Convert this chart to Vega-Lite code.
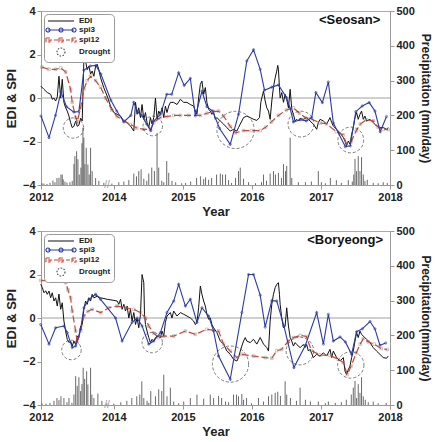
{
  "$schema": "https://vega.github.io/schema/vega-lite/v6.json",
  "padding": {"left": 4, "top": 4, "right": 2, "bottom": 2},
  "spacing": 46,
  "bounds": "flush",
  "config": {
    "font": "Liberation Sans",
    "view": {"stroke": "#aaaaaa"},
    "axis": {"labelFontSize": 11, "labelFontWeight": "bold", "titleFontSize": 13, "titleFontWeight": "bold", "domainColor": "#999999", "tickColor": "#999999", "grid": false, "labelColor": "#222222", "titleColor": "#222222", "tickSize": 4, "labelPadding": 2, "titlePadding": 4}
  },
  "resolve": {"scale": {"color": "independent", "size": "independent"}, "legend": {"color": "independent", "size": "independent"}},
  "datasets": {
    "edi_s": [
      {"t":2012.941,"v":0.55},{"t":2012.988,"v":0.4},{"t":2013.036,"v":0.25},{"t":2013.085,"v":0.17},{"t":2013.108,"v":-0.06},{"t":2013.133,"v":0},{"t":2013.157,"v":-0.14},{"t":2013.181,"v":0.05},{"t":2013.205,"v":1.0},{"t":2013.230,"v":0.0},{"t":2013.253,"v":0.86},{"t":2013.277,"v":-0.2},{"t":2013.302,"v":-0.45},{"t":2013.325,"v":-0.6},{"t":2013.350,"v":-0.83},{"t":2013.374,"v":-1.13},{"t":2013.397,"v":-1.36},{"t":2013.422,"v":-1.3},{"t":2013.447,"v":-1.06},{"t":2013.470,"v":-1.3},{"t":2013.494,"v":-1.25},{"t":2013.519,"v":-0.93},{"t":2013.542,"v":-1.06},{"t":2013.566,"v":1.78},{"t":2013.591,"v":1.7},{"t":2013.614,"v":1.3},{"t":2013.639,"v":1.47},{"t":2013.663,"v":1.1},{"t":2013.686,"v":1.24},{"t":2013.711,"v":1.0},{"t":2013.736,"v":1.47},{"t":2013.759,"v":1.55},{"t":2013.783,"v":1.3},{"t":2013.808,"v":0.93},{"t":2013.855,"v":0.47},{"t":2013.903,"v":0.09},{"t":2013.952,"v":-0.37},{"t":2014.000,"v":-0.67},{"t":2014.048,"v":-0.75},{"t":2014.097,"v":-0.83},{"t":2014.145,"v":-1.06},{"t":2014.192,"v":-1.13},{"t":2014.241,"v":-1.29},{"t":2014.289,"v":-1.52},{"t":2014.314,"v":-0.2},{"t":2014.337,"v":-0.75},{"t":2014.361,"v":-0.45},{"t":2014.386,"v":-0.9},{"t":2014.409,"v":-0.3},{"t":2014.434,"v":-0.98},{"t":2014.458,"v":-0.67},{"t":2014.481,"v":-1.13},{"t":2014.506,"v":-1.36},{"t":2014.530,"v":-0.9},{"t":2014.553,"v":-1.2},{"t":2014.578,"v":-0.9},{"t":2014.603,"v":0},{"t":2014.626,"v":-0.98},{"t":2014.650,"v":-0.6},{"t":2014.675,"v":-0.75},{"t":2014.698,"v":-0.45},{"t":2014.723,"v":-0.9},{"t":2014.747,"v":-0.37},{"t":2014.770,"v":-0.67},{"t":2014.795,"v":-0.37},{"t":2014.819,"v":-0.2},{"t":2014.867,"v":-0.2},{"t":2014.915,"v":-0.3},{"t":2014.964,"v":-0.06},{"t":2015.012,"v":-0.2},{"t":2015.059,"v":-0.2},{"t":2015.108,"v":-0.3},{"t":2015.156,"v":-0.37},{"t":2015.181,"v":-0.6},{"t":2015.204,"v":-0.75},{"t":2015.228,"v":0},{"t":2015.253,"v":0.63},{"t":2015.276,"v":0.78},{"t":2015.301,"v":0.17},{"t":2015.325,"v":0.48},{"t":2015.348,"v":-0.2},{"t":2015.373,"v":-0.52},{"t":2015.397,"v":-0.6},{"t":2015.421,"v":-0.75},{"t":2015.445,"v":-0.67},{"t":2015.470,"v":-0.98},{"t":2015.493,"v":-0.9},{"t":2015.542,"v":-1.06},{"t":2015.590,"v":-1.2},{"t":2015.637,"v":-1.36},{"t":2015.686,"v":-1.52},{"t":2015.734,"v":-1.44},{"t":2015.782,"v":-1.52},{"t":2015.806,"v":-1.36},{"t":2015.831,"v":-1.2},{"t":2015.854,"v":-1.06},{"t":2015.879,"v":-0.9},{"t":2015.926,"v":-0.83},{"t":2015.975,"v":-0.9},{"t":2016.023,"v":-0.98},{"t":2016.071,"v":-1.03},{"t":2016.110,"v":-0.9},{"t":2016.129,"v":-0.2},{"t":2016.143,"v":0},{"t":2016.168,"v":0.32},{"t":2016.192,"v":-0.14},{"t":2016.215,"v":-0.45},{"t":2016.240,"v":-0.6},{"t":2016.264,"v":-0.98},{"t":2016.288,"v":-0.14},{"t":2016.312,"v":0.5},{"t":2016.337,"v":0.93},{"t":2016.360,"v":1.24},{"t":2016.374,"v":1.5},{"t":2016.384,"v":1.32},{"t":2016.399,"v":0.47},{"t":2016.409,"v":0},{"t":2016.432,"v":0.25},{"t":2016.457,"v":-0.2},{"t":2016.481,"v":0.17},{"t":2016.504,"v":-0.06},{"t":2016.529,"v":-0.45},{"t":2016.554,"v":0.4},{"t":2016.577,"v":-0.52},{"t":2016.601,"v":-0.75},{"t":2016.626,"v":-1.06},{"t":2016.649,"v":-0.98},{"t":2016.673,"v":-1.06},{"t":2016.698,"v":-0.94},{"t":2016.746,"v":-0.98},{"t":2016.793,"v":-0.9},{"t":2016.842,"v":-1.06},{"t":2016.890,"v":-1.2},{"t":2016.938,"v":-1.44},{"t":2016.962,"v":-1.13},{"t":2016.987,"v":-0.98},{"t":2017.035,"v":-1.06},{"t":2017.082,"v":-1.2},{"t":2017.131,"v":-0.9},{"t":2017.155,"v":-1.13},{"t":2017.179,"v":-1.29},{"t":2017.227,"v":-1.44},{"t":2017.276,"v":-1.6},{"t":2017.324,"v":-1.82},{"t":2017.348,"v":-1.98},{"t":2017.371,"v":-2.2},{"t":2017.396,"v":-1.98},{"t":2017.421,"v":-2.13},{"t":2017.444,"v":-1.67},{"t":2017.468,"v":-1.36},{"t":2017.493,"v":-0.9},{"t":2017.516,"v":-0.67},{"t":2017.540,"v":-0.98},{"t":2017.565,"v":-0.75},{"t":2017.588,"v":-0.6},{"t":2017.613,"v":-0.98},{"t":2017.637,"v":-0.83},{"t":2017.660,"v":-1.06},{"t":2017.710,"v":-0.98},{"t":2017.757,"v":-1.13},{"t":2017.805,"v":-1.29},{"t":2017.854,"v":-1.36},{"t":2017.902,"v":-1.36},{"t":2017.950,"v":-1.44},{"t":2017.974,"v":-1.36}
    ],
    "spi3_s": [
      {"t":2012.945,"v":-0.83},{"t":2013.061,"v":-1.82},{"t":2013.155,"v":-0.8},{"t":2013.234,"v":0.28},{"t":2013.314,"v":-0.4},{"t":2013.422,"v":-0.65},{"t":2013.494,"v":-0.62},{"t":2013.566,"v":1.28},{"t":2013.660,"v":1.47},{"t":2013.740,"v":1.5},{"t":2013.812,"v":1.1},{"t":2013.957,"v":-0.1},{"t":2014.043,"v":-0.6},{"t":2014.145,"v":-1.1},{"t":2014.246,"v":-0.8},{"t":2014.289,"v":-0.2},{"t":2014.347,"v":-0.65},{"t":2014.405,"v":-0.8},{"t":2014.477,"v":-1.2},{"t":2014.535,"v":-1.5},{"t":2014.578,"v":-1.06},{"t":2014.675,"v":-0.75},{"t":2014.766,"v":0.17},{"t":2014.838,"v":0.17},{"t":2014.939,"v":1.16},{"t":2015.019,"v":0.58},{"t":2015.108,"v":0.9},{"t":2015.181,"v":-0.82},{"t":2015.276,"v":0.31},{"t":2015.348,"v":-0.4},{"t":2015.431,"v":-0.6},{"t":2015.532,"v":-1.4},{"t":2015.686,"v":-2.13},{"t":2015.806,"v":-0.75},{"t":2015.926,"v":1.7},{"t":2016.023,"v":2.22},{"t":2016.120,"v":1.32},{"t":2016.182,"v":0.36},{"t":2016.288,"v":0.5},{"t":2016.384,"v":0.6},{"t":2016.500,"v":0.02},{"t":2016.554,"v":-0.48},{"t":2016.601,"v":-1.1},{"t":2016.698,"v":-1.0},{"t":2016.789,"v":-1.05},{"t":2016.866,"v":-0.9},{"t":2016.926,"v":0.25},{"t":2017.020,"v":-0.21},{"t":2017.107,"v":0.74},{"t":2017.179,"v":-1.15},{"t":2017.353,"v":-2.24},{"t":2017.425,"v":-2.2},{"t":2017.504,"v":-0.63},{"t":2017.598,"v":-0.37},{"t":2017.699,"v":-0.21},{"t":2017.782,"v":-0.6},{"t":2017.858,"v":-1.55},{"t":2017.950,"v":-0.85}
    ],
    "spi12_s": [
      {"t":2012.960,"v":1.42},{"t":2013.061,"v":1.32},{"t":2013.157,"v":1.32},{"t":2013.230,"v":1.38},{"t":2013.302,"v":1.2},{"t":2013.374,"v":0.4},{"t":2013.397,"v":-0.2},{"t":2013.447,"v":-0.9},{"t":2013.470,"v":-1.1},{"t":2013.519,"v":-0.45},{"t":2013.566,"v":0.4},{"t":2013.614,"v":0.8},{"t":2013.663,"v":1.0},{"t":2013.736,"v":0.8},{"t":2013.808,"v":0.5},{"t":2013.880,"v":0.0},{"t":2013.971,"v":-0.55},{"t":2014.048,"v":-0.85},{"t":2014.145,"v":-1.05},{"t":2014.241,"v":-1.22},{"t":2014.332,"v":-1.38},{"t":2014.434,"v":-1.44},{"t":2014.530,"v":-1.44},{"t":2014.578,"v":-1.13},{"t":2014.675,"v":-0.9},{"t":2014.766,"v":-0.85},{"t":2014.867,"v":-0.8},{"t":2014.964,"v":-0.8},{"t":2015.084,"v":-0.8},{"t":2015.253,"v":-0.8},{"t":2015.348,"v":-0.7},{"t":2015.445,"v":-0.62},{"t":2015.517,"v":-0.6},{"t":2015.590,"v":-0.83},{"t":2015.686,"v":-1.3},{"t":2015.763,"v":-1.6},{"t":2015.879,"v":-1.5},{"t":2015.994,"v":-1.5},{"t":2016.120,"v":-1.5},{"t":2016.197,"v":-1.35},{"t":2016.283,"v":-1.1},{"t":2016.384,"v":-0.8},{"t":2016.500,"v":-0.55},{"t":2016.601,"v":-0.45},{"t":2016.688,"v":-0.7},{"t":2016.775,"v":-0.9},{"t":2016.847,"v":-0.95},{"t":2016.991,"v":-1.15},{"t":2017.078,"v":-1.18},{"t":2017.223,"v":-1.55},{"t":2017.324,"v":-1.7},{"t":2017.367,"v":-2.1},{"t":2017.439,"v":-2.0},{"t":2017.512,"v":-1.5},{"t":2017.569,"v":-1.2},{"t":2017.656,"v":-1.0},{"t":2017.757,"v":-1.05},{"t":2017.829,"v":-1.35},{"t":2017.902,"v":-1.44},{"t":2017.974,"v":-1.45}
    ],
    "pr_s": [
      {"t":2012.960,"p":5},{"t":2012.988,"p":4},{"t":2013.032,"p":3},{"t":2013.075,"p":6},{"t":2013.118,"p":13},{"t":2013.147,"p":8},{"t":2013.176,"p":20},{"t":2013.205,"p":21},{"t":2013.234,"p":30},{"t":2013.253,"p":30},{"t":2013.267,"p":16},{"t":2013.292,"p":10},{"t":2013.321,"p":7},{"t":2013.364,"p":8},{"t":2013.397,"p":12},{"t":2013.422,"p":60},{"t":2013.436,"p":83},{"t":2013.461,"p":97},{"t":2013.480,"p":74},{"t":2013.499,"p":30},{"t":2013.523,"p":50},{"t":2013.538,"p":120},{"t":2013.552,"p":165},{"t":2013.566,"p":136},{"t":2013.581,"p":60},{"t":2013.600,"p":107},{"t":2013.624,"p":59},{"t":2013.643,"p":30},{"t":2013.663,"p":107},{"t":2013.686,"p":40},{"t":2013.736,"p":20},{"t":2013.783,"p":12},{"t":2013.855,"p":6},{"t":2013.971,"p":4},{"t":2014.072,"p":8},{"t":2014.145,"p":10},{"t":2014.217,"p":14},{"t":2014.289,"p":33},{"t":2014.328,"p":25},{"t":2014.361,"p":40},{"t":2014.395,"p":45},{"t":2014.434,"p":18},{"t":2014.477,"p":12},{"t":2014.506,"p":33},{"t":2014.549,"p":50},{"t":2014.588,"p":40},{"t":2014.626,"p":150},{"t":2014.650,"p":50},{"t":2014.694,"p":12},{"t":2014.723,"p":8},{"t":2014.766,"p":69},{"t":2014.795,"p":35},{"t":2014.842,"p":12},{"t":2014.896,"p":8},{"t":2014.983,"p":5},{"t":2015.040,"p":6},{"t":2015.113,"p":10},{"t":2015.199,"p":20},{"t":2015.257,"p":25},{"t":2015.301,"p":17},{"t":2015.329,"p":22},{"t":2015.373,"p":15},{"t":2015.416,"p":20},{"t":2015.488,"p":30},{"t":2015.542,"p":33},{"t":2015.575,"p":30},{"t":2015.618,"p":30},{"t":2015.662,"p":14},{"t":2015.705,"p":6},{"t":2015.763,"p":20},{"t":2015.806,"p":40},{"t":2015.831,"p":50},{"t":2015.879,"p":18},{"t":2015.951,"p":8},{"t":2016.052,"p":5},{"t":2016.139,"p":8},{"t":2016.168,"p":30},{"t":2016.211,"p":12},{"t":2016.264,"p":33},{"t":2016.312,"p":40},{"t":2016.341,"p":30},{"t":2016.384,"p":35},{"t":2016.428,"p":20},{"t":2016.457,"p":60},{"t":2016.486,"p":40},{"t":2016.504,"p":55},{"t":2016.554,"p":136},{"t":2016.577,"p":20},{"t":2016.673,"p":8},{"t":2016.775,"p":8},{"t":2016.861,"p":10},{"t":2016.962,"p":40},{"t":2017.006,"p":8},{"t":2017.064,"p":5},{"t":2017.136,"p":20},{"t":2017.223,"p":14},{"t":2017.295,"p":6},{"t":2017.396,"p":14},{"t":2017.454,"p":10},{"t":2017.475,"p":30},{"t":2017.493,"p":75},{"t":2017.516,"p":40},{"t":2017.540,"p":83},{"t":2017.565,"p":40},{"t":2017.588,"p":80},{"t":2017.613,"p":30},{"t":2017.637,"p":12},{"t":2017.671,"p":15},{"t":2017.757,"p":6},{"t":2017.829,"p":5},{"t":2017.902,"p":8},{"t":2017.960,"p":6}
    ],
    "dr_s": [
      {"t":2013.415,"v":-1.38,"span":0.332},{"t":2014.564,"v":-1.29,"span":0.318},{"t":2015.763,"v":-1.47,"span":0.607},{"t":2016.710,"v":-1.2,"span":0.42},{"t":2017.432,"v":-1.93,"span":0.42}
    ],
    "edi_b": [
      {"t":2012.941,"v":1.55},{"t":2012.964,"v":1.4},{"t":2012.988,"v":1.16},{"t":2013.013,"v":1.25},{"t":2013.036,"v":1.09},{"t":2013.061,"v":1.24},{"t":2013.085,"v":0.93},{"t":2013.108,"v":1.16},{"t":2013.133,"v":0.78},{"t":2013.157,"v":0.93},{"t":2013.181,"v":0.55},{"t":2013.205,"v":1.1},{"t":2013.230,"v":0.4},{"t":2013.253,"v":0.7},{"t":2013.277,"v":-0.14},{"t":2013.302,"v":-0.6},{"t":2013.325,"v":-0.98},{"t":2013.350,"v":-1.13},{"t":2013.374,"v":-1.06},{"t":2013.397,"v":-1.29},{"t":2013.422,"v":-1.06},{"t":2013.447,"v":-1.22},{"t":2013.470,"v":-0.83},{"t":2013.494,"v":-0.9},{"t":2013.519,"v":-0.37},{"t":2013.542,"v":-0.3},{"t":2013.566,"v":0.4},{"t":2013.591,"v":0.78},{"t":2013.614,"v":0.63},{"t":2013.639,"v":0.93},{"t":2013.663,"v":0.78},{"t":2013.686,"v":1.09},{"t":2013.711,"v":0.93},{"t":2013.759,"v":1.0},{"t":2013.808,"v":0.93},{"t":2013.903,"v":0.86},{"t":2014.000,"v":0.81},{"t":2014.048,"v":0.78},{"t":2014.072,"v":0.63},{"t":2014.097,"v":0.86},{"t":2014.120,"v":0.4},{"t":2014.145,"v":0.63},{"t":2014.169,"v":0.32},{"t":2014.192,"v":0.55},{"t":2014.217,"v":0.0},{"t":2014.241,"v":0.4},{"t":2014.264,"v":-0.14},{"t":2014.289,"v":0.25},{"t":2014.314,"v":-0.3},{"t":2014.337,"v":0.0},{"t":2014.361,"v":-0.45},{"t":2014.386,"v":0.17},{"t":2014.409,"v":2.0},{"t":2014.434,"v":1.62},{"t":2014.444,"v":0.17},{"t":2014.458,"v":-0.3},{"t":2014.481,"v":-0.6},{"t":2014.506,"v":-0.9},{"t":2014.530,"v":-1.13},{"t":2014.553,"v":-0.98},{"t":2014.578,"v":-1.06},{"t":2014.603,"v":-0.9},{"t":2014.626,"v":-0.83},{"t":2014.675,"v":-0.9},{"t":2014.698,"v":-0.6},{"t":2014.723,"v":-0.83},{"t":2014.747,"v":-0.2},{"t":2014.770,"v":0.09},{"t":2014.819,"v":0.25},{"t":2014.842,"v":0.0},{"t":2014.867,"v":0.32},{"t":2014.915,"v":0.09},{"t":2014.964,"v":0.25},{"t":2015.012,"v":0.17},{"t":2015.059,"v":0.09},{"t":2015.108,"v":0.0},{"t":2015.156,"v":-0.14},{"t":2015.181,"v":-0.3},{"t":2015.204,"v":-0.2},{"t":2015.228,"v":0.47},{"t":2015.253,"v":1.47},{"t":2015.276,"v":1.09},{"t":2015.301,"v":0.78},{"t":2015.325,"v":0.55},{"t":2015.348,"v":0.17},{"t":2015.373,"v":-0.06},{"t":2015.397,"v":0.0},{"t":2015.421,"v":-0.3},{"t":2015.445,"v":-0.45},{"t":2015.493,"v":-0.67},{"t":2015.542,"v":-1.06},{"t":2015.590,"v":-1.2},{"t":2015.637,"v":-1.52},{"t":2015.686,"v":-1.67},{"t":2015.734,"v":-1.9},{"t":2015.782,"v":-1.98},{"t":2015.806,"v":-1.82},{"t":2015.831,"v":-1.52},{"t":2015.854,"v":-1.29},{"t":2015.879,"v":-1.06},{"t":2015.903,"v":-0.9},{"t":2015.926,"v":-1.06},{"t":2015.975,"v":-1.13},{"t":2016.023,"v":-0.98},{"t":2016.071,"v":-1.2},{"t":2016.120,"v":-0.9},{"t":2016.168,"v":-1.2},{"t":2016.215,"v":-1.36},{"t":2016.240,"v":-1.52},{"t":2016.264,"v":-0.14},{"t":2016.288,"v":0.63},{"t":2016.312,"v":1.09},{"t":2016.337,"v":1.4},{"t":2016.360,"v":1.55},{"t":2016.384,"v":1.62},{"t":2016.399,"v":1.09},{"t":2016.409,"v":0.63},{"t":2016.432,"v":0.0},{"t":2016.457,"v":-0.45},{"t":2016.481,"v":-0.37},{"t":2016.504,"v":0.47},{"t":2016.529,"v":-0.37},{"t":2016.554,"v":-0.9},{"t":2016.577,"v":-1.06},{"t":2016.601,"v":-1.29},{"t":2016.626,"v":-1.13},{"t":2016.649,"v":-1.22},{"t":2016.698,"v":-1.36},{"t":2016.746,"v":-1.22},{"t":2016.770,"v":-1.36},{"t":2016.793,"v":-1.22},{"t":2016.818,"v":-1.52},{"t":2016.842,"v":-1.44},{"t":2016.890,"v":-1.82},{"t":2016.938,"v":-1.67},{"t":2016.987,"v":-1.75},{"t":2017.035,"v":-1.6},{"t":2017.082,"v":-1.75},{"t":2017.131,"v":-1.44},{"t":2017.155,"v":-1.82},{"t":2017.179,"v":-1.52},{"t":2017.227,"v":-1.82},{"t":2017.276,"v":-1.98},{"t":2017.324,"v":-1.82},{"t":2017.348,"v":-2.44},{"t":2017.371,"v":-2.6},{"t":2017.396,"v":-2.37},{"t":2017.421,"v":-2.21},{"t":2017.444,"v":-1.82},{"t":2017.468,"v":-1.52},{"t":2017.493,"v":-1.06},{"t":2017.516,"v":-0.67},{"t":2017.540,"v":-0.9},{"t":2017.565,"v":-0.6},{"t":2017.588,"v":-0.75},{"t":2017.613,"v":-0.83},{"t":2017.660,"v":-0.98},{"t":2017.710,"v":-1.13},{"t":2017.757,"v":-1.36},{"t":2017.805,"v":-1.52},{"t":2017.854,"v":-1.67},{"t":2017.902,"v":-1.82},{"t":2017.950,"v":-1.85},{"t":2017.974,"v":-1.75}
    ],
    "spi3_b": [
      {"t":2012.941,"v":-0.3},{"t":2013.061,"v":-1.2},{"t":2013.157,"v":-0.45},{"t":2013.277,"v":-0.37},{"t":2013.325,"v":-0.67},{"t":2013.397,"v":-1.36},{"t":2013.447,"v":-1.29},{"t":2013.519,"v":-0.52},{"t":2013.566,"v":0.47},{"t":2013.639,"v":0.86},{"t":2013.736,"v":1.09},{"t":2013.808,"v":0.86},{"t":2014.025,"v":0.0},{"t":2014.120,"v":-1.06},{"t":2014.264,"v":-0.2},{"t":2014.337,"v":0.0},{"t":2014.409,"v":-0.37},{"t":2014.506,"v":-1.2},{"t":2014.578,"v":-1.06},{"t":2014.675,"v":-0.67},{"t":2014.770,"v":0.25},{"t":2014.867,"v":0.78},{"t":2014.939,"v":1.55},{"t":2015.036,"v":0.55},{"t":2015.108,"v":0.86},{"t":2015.204,"v":-0.2},{"t":2015.276,"v":0.47},{"t":2015.373,"v":0.09},{"t":2015.445,"v":-0.6},{"t":2015.517,"v":-1.75},{"t":2015.686,"v":-2.82},{"t":2015.854,"v":0.25},{"t":2015.951,"v":2.0},{"t":2016.023,"v":2.0},{"t":2016.120,"v":1.05},{"t":2016.192,"v":-0.42},{"t":2016.288,"v":0.8},{"t":2016.360,"v":0.78},{"t":2016.464,"v":-0.37},{"t":2016.608,"v":-2.28},{"t":2016.775,"v":-1.25},{"t":2016.938,"v":0.25},{"t":2017.035,"v":-1.2},{"t":2017.107,"v":0.17},{"t":2017.179,"v":-1.06},{"t":2017.276,"v":-0.87},{"t":2017.353,"v":-1.1},{"t":2017.444,"v":-1.67},{"t":2017.516,"v":-0.63},{"t":2017.598,"v":-0.5},{"t":2017.710,"v":-0.16},{"t":2017.782,"v":-0.5},{"t":2017.854,"v":-1.25},{"t":2017.938,"v":-1.15}
    ],
    "spi12_b": [
      {"t":2012.941,"v":1.73},{"t":2013.061,"v":1.7},{"t":2013.157,"v":1.78},{"t":2013.230,"v":1.78},{"t":2013.302,"v":1.62},{"t":2013.335,"v":1.3},{"t":2013.374,"v":0.93},{"t":2013.397,"v":0.32},{"t":2013.447,"v":-0.6},{"t":2013.470,"v":-1.13},{"t":2013.519,"v":-0.6},{"t":2013.566,"v":0.09},{"t":2013.624,"v":0.3},{"t":2013.682,"v":0.4},{"t":2013.808,"v":0.25},{"t":2013.928,"v":0.47},{"t":2014.048,"v":0.55},{"t":2014.169,"v":0.47},{"t":2014.289,"v":0.4},{"t":2014.386,"v":0.25},{"t":2014.458,"v":0.0},{"t":2014.506,"v":-0.37},{"t":2014.578,"v":-0.7},{"t":2014.650,"v":-0.9},{"t":2014.723,"v":-0.83},{"t":2014.867,"v":-0.83},{"t":2015.036,"v":-0.6},{"t":2015.181,"v":-0.75},{"t":2015.348,"v":-0.52},{"t":2015.517,"v":-0.6},{"t":2015.590,"v":-1.2},{"t":2015.686,"v":-1.52},{"t":2015.782,"v":-1.82},{"t":2015.854,"v":-1.67},{"t":2016.023,"v":-1.75},{"t":2016.192,"v":-1.82},{"t":2016.288,"v":-1.85},{"t":2016.360,"v":-1.5},{"t":2016.428,"v":-1.45},{"t":2016.529,"v":-1.06},{"t":2016.601,"v":-0.9},{"t":2016.702,"v":-0.8},{"t":2016.789,"v":-0.85},{"t":2016.861,"v":-1.5},{"t":2016.987,"v":-1.7},{"t":2017.131,"v":-1.72},{"t":2017.251,"v":-1.9},{"t":2017.324,"v":-2.05},{"t":2017.382,"v":-2.6},{"t":2017.439,"v":-2.2},{"t":2017.512,"v":-1.6},{"t":2017.569,"v":-1.2},{"t":2017.613,"v":-0.95},{"t":2017.685,"v":-1.1},{"t":2017.772,"v":-1.2},{"t":2017.873,"v":-1.4},{"t":2017.960,"v":-1.45}
    ],
    "pr_b": [
      {"t":2012.960,"p":5},{"t":2013.017,"p":4},{"t":2013.075,"p":6},{"t":2013.133,"p":12},{"t":2013.176,"p":20},{"t":2013.205,"p":14},{"t":2013.234,"p":25},{"t":2013.277,"p":20},{"t":2013.321,"p":8},{"t":2013.350,"p":20},{"t":2013.393,"p":6},{"t":2013.422,"p":30},{"t":2013.447,"p":83},{"t":2013.470,"p":55},{"t":2013.494,"p":80},{"t":2013.519,"p":40},{"t":2013.538,"p":60},{"t":2013.556,"p":107},{"t":2013.577,"p":75},{"t":2013.606,"p":97},{"t":2013.624,"p":59},{"t":2013.663,"p":107},{"t":2013.682,"p":30},{"t":2013.711,"p":20},{"t":2013.769,"p":33},{"t":2013.827,"p":12},{"t":2013.899,"p":5},{"t":2014.000,"p":4},{"t":2014.101,"p":8},{"t":2014.188,"p":12},{"t":2014.260,"p":20},{"t":2014.332,"p":25},{"t":2014.376,"p":30},{"t":2014.405,"p":68},{"t":2014.434,"p":20},{"t":2014.481,"p":12},{"t":2014.506,"p":6},{"t":2014.535,"p":40},{"t":2014.603,"p":25},{"t":2014.650,"p":45},{"t":2014.694,"p":40},{"t":2014.723,"p":87},{"t":2014.770,"p":25},{"t":2014.819,"p":50},{"t":2014.867,"p":10},{"t":2014.939,"p":5},{"t":2015.012,"p":10},{"t":2015.108,"p":20},{"t":2015.204,"p":30},{"t":2015.301,"p":18},{"t":2015.397,"p":30},{"t":2015.445,"p":20},{"t":2015.517,"p":26},{"t":2015.561,"p":20},{"t":2015.618,"p":10},{"t":2015.662,"p":8},{"t":2015.734,"p":30},{"t":2015.777,"p":30},{"t":2015.806,"p":25},{"t":2015.854,"p":32},{"t":2015.879,"p":15},{"t":2015.922,"p":20},{"t":2015.994,"p":5},{"t":2016.095,"p":20},{"t":2016.168,"p":10},{"t":2016.240,"p":25},{"t":2016.288,"p":30},{"t":2016.337,"p":35},{"t":2016.374,"p":38},{"t":2016.413,"p":26},{"t":2016.481,"p":68},{"t":2016.504,"p":30},{"t":2016.558,"p":20},{"t":2016.645,"p":12},{"t":2016.698,"p":50},{"t":2016.775,"p":15},{"t":2016.847,"p":10},{"t":2016.962,"p":10},{"t":2017.064,"p":5},{"t":2017.107,"p":10},{"t":2017.208,"p":6},{"t":2017.295,"p":8},{"t":2017.367,"p":15},{"t":2017.439,"p":30},{"t":2017.468,"p":50},{"t":2017.493,"p":69},{"t":2017.516,"p":20},{"t":2017.540,"p":60},{"t":2017.565,"p":35},{"t":2017.588,"p":80},{"t":2017.613,"p":25},{"t":2017.642,"p":15},{"t":2017.685,"p":8},{"t":2017.757,"p":10},{"t":2017.829,"p":5},{"t":2017.945,"p":6}
    ],
    "dr_b": [
      {"t":2013.386,"v":-1.47,"span":0.318},{"t":2014.556,"v":-1.13,"span":0.332},{"t":2015.690,"v":-2.12,"span":0.59},{"t":2016.695,"v":-1.52,"span":0.45},{"t":2017.432,"v":-2.16,"span":0.43}
    ]
  },
  "vconcat": [
    {
      "width": 349, "height": 174,
      "resolve": {"scale": {"y": "independent"}},
      "layer": [
        {
          "data": {"name": "pr_s"},
          "mark": {"type": "rule", "color": "#444444", "strokeWidth": 0.8},
          "encoding": {
            "x": {"field": "t", "type": "quantitative", "title": "Year", "scale": {"domain": [2012.945, 2018], "nice": false, "zero": false}, "axis": {"values": [2012.945, 2014, 2015, 2016, 2017, 2018], "labelExpr": "datum.value < 2013 ? '2012' : format(datum.value, 'd')", "labelFlush": false, "labelOverlap": false, "titlePadding": 3}},
            "y": {"field": "p", "type": "quantitative", "title": "Precipitation (mm/day)", "scale": {"domain": [0, 500], "nice": false}, "axis": {"orient": "right", "values": [0, 100, 200, 300, 400, 500], "titleFontSize": 12}},
            "y2": {"datum": 0}
          }
        },
        {
          "layer": [
            {
              "data": {"values": [{}]},
              "mark": {"type": "rule", "color": "#a0a0a0", "strokeWidth": 1},
              "encoding": {"y": {"datum": 0, "type": "quantitative", "scale": {"domain": [-4, 4], "nice": false}}}
            },
            {
              "data": {"name": "edi_s"},
              "mark": {"type": "line", "strokeWidth": 1},
              "encoding": {
                "x": {"field": "t", "type": "quantitative", "title": "Year", "scale": {"domain": [2012.945, 2018], "nice": false, "zero": false}},
                "y": {"field": "v", "type": "quantitative", "title": "EDI & SPI", "scale": {"domain": [-4, 4], "nice": false}, "axis": {"values": [-4, -2, 0, 2, 4]}},
                "color": {"datum": "EDI", "type": "nominal", "scale": {"domain": ["EDI", "spi3", "spi12", "Drought"], "range": ["#111111", "#2b3aa8", "#d2412f", "#444444"]},
                  "legend": {"orient": "top-left", "offset": 3, "title": null, "fillColor": "white", "strokeColor": "#9a9a9a", "cornerRadius": 4, "padding": 3, "labelFontSize": 8, "labelFontWeight": "bold", "labelOffset": 24, "labelColor": "#222222", "rowPadding": 0, "symbolSize": 36, "symbolStrokeWidth": 1.1,
                    "encode": {"symbols": {"update": {
                      "shape": {"signal": "datum.value === 'EDI' ? 'M-1,0H7.67' : datum.value === 'spi3' ? 'M-1,0H7.67M-0.33,0A0.67,0.67,0,1,1,-1.67,0A0.67,0.67,0,1,1,-0.33,0M4,0A0.67,0.67,0,1,1,2.66,0A0.67,0.67,0,1,1,4,0M8.34,0A0.67,0.67,0,1,1,7,0A0.67,0.67,0,1,1,8.34,0' : datum.value === 'spi12' ? 'M-1,0H7.67M-1.67,-0.67H-0.33V0.67H-1.67ZM2.66,-0.67H4V0.67H2.66ZM7,-0.67H8.34V0.67H7Z' : 'M4.66,0A1.33,1.33,0,1,1,2,0A1.33,1.33,0,1,1,4.66,0'"},
                      "strokeDash": {"signal": "datum.value === 'spi12' ? [4,2] : datum.value === 'Drought' ? [1.5,1.5] : [1,0]"},
                      "fill": {"value": "transparent"}
                    }}}
                  }
                }
              }
            },
            {
              "data": {"name": "spi12_s"},
              "mark": {"type": "line", "strokeWidth": 1.2, "strokeDash": [7, 3]},
              "encoding": {
                "x": {"field": "t", "type": "quantitative", "title": "Year"},
                "y": {"field": "v", "type": "quantitative", "title": "EDI & SPI"},
                "color": {"datum": "spi12", "type": "nominal"}
              }
            },
            {
              "data": {"name": "spi12_s"},
              "mark": {"type": "point", "shape": "square", "filled": false, "size": 7, "stroke": "#808080", "strokeWidth": 0.6},
              "encoding": {
                "x": {"field": "t", "type": "quantitative", "title": "Year"},
                "y": {"field": "v", "type": "quantitative", "title": "EDI & SPI"}
              }
            },
            {
              "data": {"name": "spi3_s"},
              "mark": {"type": "line", "strokeWidth": 1.1, "point": {"filled": false, "size": 5, "strokeWidth": 0.6}},
              "encoding": {
                "x": {"field": "t", "type": "quantitative", "title": "Year"},
                "y": {"field": "v", "type": "quantitative", "title": "EDI & SPI"},
                "color": {"datum": "spi3", "type": "nominal"}
              }
            },
            {
              "data": {"name": "dr_s"},
              "mark": {"type": "point", "shape": "circle", "filled": false, "strokeDash": [3, 2], "strokeWidth": 1},
              "encoding": {
                "x": {"field": "t", "type": "quantitative", "title": "Year"},
                "y": {"field": "v", "type": "quantitative", "title": "EDI & SPI"},
                "size": {"field": "span", "type": "quantitative", "scale": {"type": "pow", "exponent": 2, "domain": [0, 1], "range": [0, 3761]}, "legend": null},
                "color": {"datum": "Drought", "type": "nominal"}
              }
            },
            {
              "data": {"values": [{}]},
              "mark": {"type": "text", "align": "right", "baseline": "middle", "fontSize": 13, "fontWeight": "bold", "color": "#111111"},
              "encoding": {"x": {"datum": 2017.86}, "y": {"datum": 3.6}, "text": {"value": "<Seosan>"}}
            },
            {
              "data": {"values": [{}]},
              "mark": {"type": "text", "align": "center", "baseline": "middle", "fontSize": 10, "color": "#999999"},
              "encoding": {"x": {"datum": 2013.9}, "y": {"datum": -4}, "text": {"value": "//"}}
            }
          ]
        }
      ]
    },
    {
      "width": 349, "height": 174,
      "resolve": {"scale": {"y": "independent"}},
      "layer": [
        {
          "data": {"name": "pr_b"},
          "mark": {"type": "rule", "color": "#444444", "strokeWidth": 0.8},
          "encoding": {
            "x": {"field": "t", "type": "quantitative", "title": "Year", "scale": {"domain": [2012.945, 2018], "nice": false, "zero": false}, "axis": {"values": [2012.945, 2014, 2015, 2016, 2017, 2018], "labelExpr": "datum.value < 2013 ? '2012' : format(datum.value, 'd')", "labelFlush": false, "labelOverlap": false, "titlePadding": 3}},
            "y": {"field": "p", "type": "quantitative", "title": "Precipitation(mm/day)", "scale": {"domain": [0, 500], "nice": false}, "axis": {"orient": "right", "values": [0, 100, 200, 300, 400, 500], "titleFontSize": 12}},
            "y2": {"datum": 0}
          }
        },
        {
          "layer": [
            {
              "data": {"values": [{}]},
              "mark": {"type": "rule", "color": "#a0a0a0", "strokeWidth": 1},
              "encoding": {"y": {"datum": 0, "type": "quantitative", "scale": {"domain": [-4, 4], "nice": false}}}
            },
            {
              "data": {"name": "edi_b"},
              "mark": {"type": "line", "strokeWidth": 1},
              "encoding": {
                "x": {"field": "t", "type": "quantitative", "title": "Year", "scale": {"domain": [2012.945, 2018], "nice": false, "zero": false}},
                "y": {"field": "v", "type": "quantitative", "title": "EDI & SPI", "scale": {"domain": [-4, 4], "nice": false}, "axis": {"values": [-4, -2, 0, 2, 4]}},
                "color": {"datum": "EDI", "type": "nominal", "scale": {"domain": ["EDI", "spi3", "spi12", "Drought"], "range": ["#111111", "#2b3aa8", "#d2412f", "#444444"]},
                  "legend": {"orient": "top-left", "offset": 3, "title": null, "fillColor": "white", "strokeColor": "#9a9a9a", "cornerRadius": 4, "padding": 3, "labelFontSize": 8, "labelFontWeight": "bold", "labelOffset": 24, "labelColor": "#222222", "rowPadding": 0, "symbolSize": 36, "symbolStrokeWidth": 1.1,
                    "encode": {"symbols": {"update": {
                      "shape": {"signal": "datum.value === 'EDI' ? 'M-1,0H7.67' : datum.value === 'spi3' ? 'M-1,0H7.67M-0.33,0A0.67,0.67,0,1,1,-1.67,0A0.67,0.67,0,1,1,-0.33,0M4,0A0.67,0.67,0,1,1,2.66,0A0.67,0.67,0,1,1,4,0M8.34,0A0.67,0.67,0,1,1,7,0A0.67,0.67,0,1,1,8.34,0' : datum.value === 'spi12' ? 'M-1,0H7.67M-1.67,-0.67H-0.33V0.67H-1.67ZM2.66,-0.67H4V0.67H2.66ZM7,-0.67H8.34V0.67H7Z' : 'M4.66,0A1.33,1.33,0,1,1,2,0A1.33,1.33,0,1,1,4.66,0'"},
                      "strokeDash": {"signal": "datum.value === 'spi12' ? [4,2] : datum.value === 'Drought' ? [1.5,1.5] : [1,0]"},
                      "fill": {"value": "transparent"}
                    }}}
                  }
                }
              }
            },
            {
              "data": {"name": "spi12_b"},
              "mark": {"type": "line", "strokeWidth": 1.2, "strokeDash": [7, 3]},
              "encoding": {
                "x": {"field": "t", "type": "quantitative", "title": "Year"},
                "y": {"field": "v", "type": "quantitative", "title": "EDI & SPI"},
                "color": {"datum": "spi12", "type": "nominal"}
              }
            },
            {
              "data": {"name": "spi12_b"},
              "mark": {"type": "point", "shape": "square", "filled": false, "size": 7, "stroke": "#808080", "strokeWidth": 0.6},
              "encoding": {
                "x": {"field": "t", "type": "quantitative", "title": "Year"},
                "y": {"field": "v", "type": "quantitative", "title": "EDI & SPI"}
              }
            },
            {
              "data": {"name": "spi3_b"},
              "mark": {"type": "line", "strokeWidth": 1.1, "point": {"filled": false, "size": 5, "strokeWidth": 0.6}},
              "encoding": {
                "x": {"field": "t", "type": "quantitative", "title": "Year"},
                "y": {"field": "v", "type": "quantitative", "title": "EDI & SPI"},
                "color": {"datum": "spi3", "type": "nominal"}
              }
            },
            {
              "data": {"name": "dr_b"},
              "mark": {"type": "point", "shape": "circle", "filled": false, "strokeDash": [3, 2], "strokeWidth": 1},
              "encoding": {
                "x": {"field": "t", "type": "quantitative", "title": "Year"},
                "y": {"field": "v", "type": "quantitative", "title": "EDI & SPI"},
                "size": {"field": "span", "type": "quantitative", "scale": {"type": "pow", "exponent": 2, "domain": [0, 1], "range": [0, 3761]}, "legend": null},
                "color": {"datum": "Drought", "type": "nominal"}
              }
            },
            {
              "data": {"values": [{}]},
              "mark": {"type": "text", "align": "right", "baseline": "middle", "fontSize": 13, "fontWeight": "bold", "color": "#111111"},
              "encoding": {"x": {"datum": 2017.9}, "y": {"datum": 3.6}, "text": {"value": "<Boryeong>"}}
            },
            {
              "data": {"values": [{}]},
              "mark": {"type": "text", "align": "center", "baseline": "middle", "fontSize": 10, "color": "#999999"},
              "encoding": {"x": {"datum": 2013.9}, "y": {"datum": -4}, "text": {"value": "//"}}
            }
          ]
        }
      ]
    }
  ]
}
